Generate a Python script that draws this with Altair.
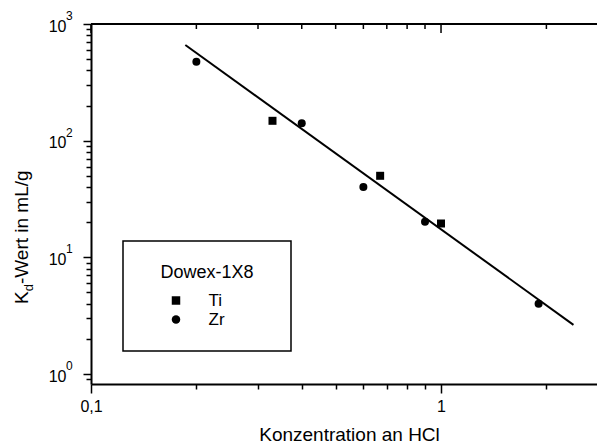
import altair as alt
import pandas as pd

# Distribution coefficients of Ti and Zr on Dowex-1X8 versus HCl concentration
ti_hcl = [0.33, 0.67, 1.0]
ti_kd = [148, 50, 19.5]
zr_hcl = [0.2, 0.4, 0.6, 0.9, 1.9]
zr_kd = [475, 141, 40, 20.2, 4.0]
series_names = ["Ti", "Zr"]

# straight fit line in log-log space, given by its end points
fit_hcl = [0.186, 2.39]
fit_kd = [661, 2.64]

# axis ticks
x_major = [0.1, 1]
x_minor = [0.2, 0.3, 0.4, 0.5, 0.6, 0.7, 0.8, 0.9, 2]
y_major = [1, 10, 100, 1000]
y_exponents = ["0", "1", "2", "3"]
y_minor = [0.9] + [m * d for d in (1, 10, 100) for m in range(2, 10)]

FONT = "Liberation Sans"
W, H = 506, 360

points = pd.DataFrame({
    "hcl": ti_hcl + zr_hcl,
    "kd": ti_kd + zr_kd,
    "series": [series_names[0]] * len(ti_hcl) + [series_names[1]] * len(zr_hcl),
})
fit = pd.DataFrame({"hcl": fit_hcl, "kd": fit_kd})
top_major = pd.DataFrame({"hcl": x_major})
top_minor = pd.DataFrame({"hcl": x_minor})
decades = pd.DataFrame({"kd": y_major, "exp": y_exponents})
one = pd.DataFrame({"k": [0]})

xs = alt.Scale(type="log", domain=[0.1, 2.79], nice=False)
ys = alt.Scale(type="log", domain=[0.821, 1000], nice=False)

x_axis = alt.Axis(
    values=x_major + x_minor,
    labelExpr="datum.value == 0.1 ? '0,1' : datum.value == 1 ? '1' : ''",
    tickSize={"condition": {"test": "datum.value == 0.1 || datum.value == 1", "value": 9}, "value": 5},
    tickWidth=1.5, tickColor="black",
    domainColor="black", domainWidth=2,
    labelFont=FONT, labelFontSize=16, labelColor="black",
    labelPadding=5, labelFlush=False, labelOverlap=False, labelBound=False,
    grid=False,
    title="Konzentration an HCl", titleFont=FONT, titleFontSize=19,
    titleFontWeight="normal", titleColor="black",
    titleBaseline="alphabetic", titleY=56, titleX=258,
)
y_axis = alt.Axis(
    values=y_major + y_minor,
    labelExpr="indexof([1, 10, 100, 1000], datum.value) >= 0 ? '10' : ''",
    tickSize={"condition": {"test": "indexof([1, 10, 100, 1000], datum.value) >= 0", "value": 8}, "value": 5},
    tickWidth=1.5, tickColor="black",
    domainColor="black", domainWidth=2,
    labelFont=FONT, labelFontSize=16, labelColor="black",
    labelPadding=17, labelOverlap=False, labelBound=False, labelFlush=False,
    labelOffset=2,
    grid=False, title=None,
)

legend = alt.Legend(
    title="Dowex-1X8", orient="none", legendX=69.5, legendY=240,
    titleFont=FONT, titleFontSize=18, titleFontWeight="normal", titleColor="black",
    titleAnchor="start", titlePadding=10,
    labelFont=FONT, labelFontSize=17, labelColor="black",
    symbolSize=72, symbolFillColor="black", symbolStrokeColor="black",
    symbolStrokeWidth=0, symbolOffset=7, labelOffset=24, rowPadding=1, padding=0,
)

pts = alt.Chart(points).mark_point(filled=True, opacity=1, color="black", size=64).encode(
    x=alt.X("hcl:Q", scale=xs, axis=x_axis),
    y=alt.Y("kd:Q", scale=ys, axis=y_axis),
    shape=alt.Shape("series:N", scale=alt.Scale(domain=series_names, range=["square", "circle"]),
                    legend=legend),
)

line = alt.Chart(fit).mark_line(color="black", strokeWidth=2).encode(
    x=alt.X("hcl:Q", scale=xs), y=alt.Y("kd:Q", scale=ys)
)

# exponents of the decade labels on the y axis
exponents = alt.Chart(decades).mark_text(
    font=FONT, fontSize=12, align="left", baseline="middle", color="black", dy=-8
).encode(x=alt.value(-25), y=alt.Y("kd:Q", scale=ys), text="exp:N")

# inward ticks along the top frame
ticks_major = alt.Chart(top_major).mark_rule(color="black", strokeWidth=1.5).encode(
    x=alt.X("hcl:Q", scale=xs), y=alt.value(0), y2=alt.value(9)
)
ticks_minor = alt.Chart(top_minor).mark_rule(color="black", strokeWidth=1.5).encode(
    x=alt.X("hcl:Q", scale=xs), y=alt.value(0), y2=alt.value(5)
)
top_frame = alt.Chart(one).mark_rule(color="black", strokeWidth=2).encode(
    x=alt.value(0), x2=alt.value(W), y=alt.value(0)
)

# frame around the legend
legend_box = alt.Chart(one).mark_rect(fillOpacity=0, stroke="black", strokeWidth=1.5).encode(
    x=alt.value(32), x2=alt.value(200), y=alt.value(217), y2=alt.value(327)
)

# y title with subscript d
y0 = 280
title_k = alt.Chart(one).mark_text(
    text="K", font=FONT, fontSize=19, angle=270, align="left", baseline="alphabetic", color="black"
).encode(x=alt.value(-63), y=alt.value(y0))
title_d = alt.Chart(one).mark_text(
    text="d", font=FONT, fontSize=13, angle=270, align="left", baseline="alphabetic", color="black"
).encode(x=alt.value(-58), y=alt.value(y0 - 12.7))
title_rest = alt.Chart(one).mark_text(
    text="-Wert in mL/g", font=FONT, fontSize=19, angle=270, align="left", baseline="alphabetic",
    color="black"
).encode(x=alt.value(-63), y=alt.value(y0 - 12.7 - 7.2))

chart = alt.layer(
    legend_box, top_frame, ticks_major, ticks_minor, line, pts, exponents,
    title_k, title_d, title_rest
).properties(
    width=W, height=H,
    autosize=alt.AutoSizeParams(type="none"),
    padding={"left": 91, "top": 24, "right": 0, "bottom": 59},
).configure_view(strokeWidth=0).configure(background="white")

chart.save("out.html", embed_options={"renderer": "svg", "actions": False})
